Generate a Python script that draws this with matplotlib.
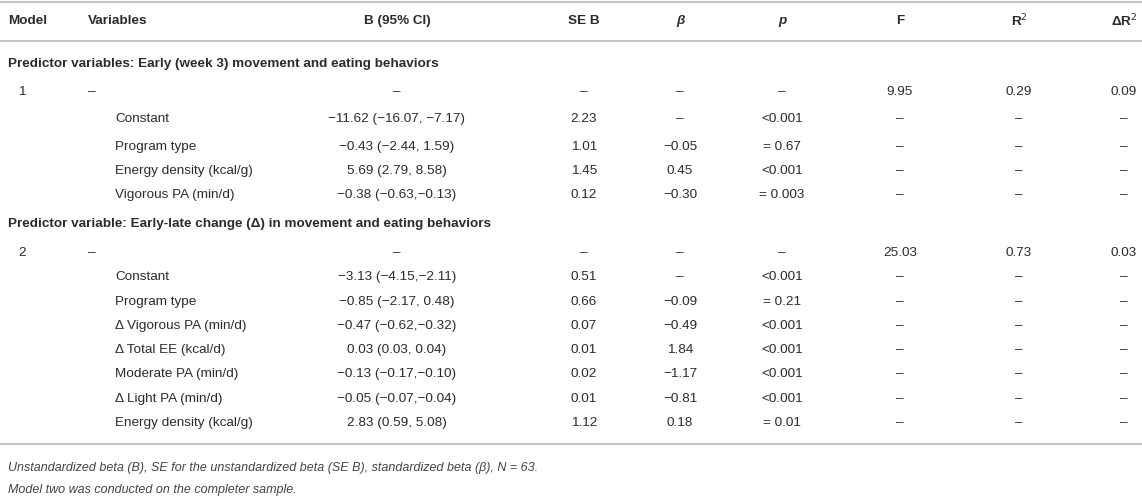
import matplotlib
matplotlib.use('Agg')
import matplotlib.pyplot as plt

plt.rcParams['font.family'] = ['Liberation Sans', 'DejaVu Sans']

W, H = 1142, 504
ink = '#2b2b2b'
rule = '#c4c4c4'

headers = ['Model', 'Variables', 'B (95% CI)', 'SE B', '\u03b2', 'p', 'F', 'R$^2$', '\u0394R$^2$']

section_titles = [
    'Predictor variables: Early (week 3) movement and eating behaviors',
    'Predictor variable: Early-late change (\u0394) in movement and eating behaviors',
]

D = '\u2013'
M = '\u2212'

models = ['1', '2']
variables = [
    [D, 'Constant', 'Program type', 'Energy density (kcal/g)', 'Vigorous PA (min/d)'],
    [D, 'Constant', 'Program type', '\u0394 Vigorous PA (min/d)', '\u0394 Total EE (kcal/d)',
     'Moderate PA (min/d)', '\u0394 Light PA (min/d)', 'Energy density (kcal/g)'],
]
b_ci = [
    [D, M + '11.62 (' + M + '16.07, ' + M + '7.17)', M + '0.43 (' + M + '2.44, 1.59)',
     '5.69 (2.79, 8.58)', M + '0.38 (' + M + '0.63,' + M + '0.13)'],
    [D, M + '3.13 (' + M + '4.15,' + M + '2.11)', M + '0.85 (' + M + '2.17, 0.48)',
     M + '0.47 (' + M + '0.62,' + M + '0.32)', '0.03 (0.03, 0.04)',
     M + '0.13 (' + M + '0.17,' + M + '0.10)', M + '0.05 (' + M + '0.07,' + M + '0.04)',
     '2.83 (0.59, 5.08)'],
]
se_b = [
    [D, '2.23', '1.01', '1.45', '0.12'],
    [D, '0.51', '0.66', '0.07', '0.01', '0.02', '0.01', '1.12'],
]
beta = [
    [D, D, M + '0.05', '0.45', M + '0.30'],
    [D, D, M + '0.09', M + '0.49', '1.84', M + '1.17', M + '0.81', '0.18'],
]
p_val = [
    [D, '<0.001', '= 0.67', '<0.001', '= 0.003'],
    [D, '<0.001', '= 0.21', '<0.001', '<0.001', '<0.001', '<0.001', '= 0.01'],
]
f_val = [['9.95'] + [D] * 4, ['25.03'] + [D] * 7]
r2 = [['0.29'] + [D] * 4, ['0.73'] + [D] * 7]
dr2 = [['0.09'] + [D] * 4, ['0.03'] + [D] * 7]

footnotes = [
    'Unstandardized beta (B), SE for the unstandardized beta (SE B), standardized beta (\u03b2), N = 63.',
    'Model two was conducted on the completer sample.',
]

fig = plt.figure(figsize=(W / 100, H / 100), dpi=100)
ax = fig.add_axes([0, 0, 1, 1])
ax.set_xlim(0, W)
ax.set_ylim(H, 0)
ax.axis('off')

fs = 9.7
col_x = [8, 88, 397, 584, 680, 782, 900, 1019, 1124]
col_ha = ['left', 'left', 'center', 'center', 'center', 'center', 'center', 'center', 'center']

# rules
for y in [2, 41, 444]:
    ax.plot([0, W], [y, y], color=rule, lw=1.5, solid_capstyle='butt')

# header row
for i, h in enumerate(headers):
    style = 'italic' if h in ('p', '\u03b2') else 'normal'
    ax.text(col_x[i], 21, h, ha=col_ha[i], va='center', fontsize=fs, fontweight='bold',
            fontstyle=style, color=ink)

section_y = [64, 224]
row_y = [[92, 119, 147, 171, 195], [253, 277, 302, 326, 350, 374, 399, 423]]

for s in range(2):
    ax.text(8, section_y[s], section_titles[s], ha='left', va='center', fontsize=fs,
            fontweight='bold', color=ink)
    ys = row_y[s]
    ax.text(22, ys[0], models[s], ha='center', va='center', fontsize=fs, color=ink)
    cols = [variables[s], b_ci[s], se_b[s], beta[s], p_val[s], f_val[s], r2[s], dr2[s]]
    for r, y in enumerate(ys):
        for c, vals in enumerate(cols):
            ci = c + 1
            if ci == 1:
                x = 88 if r == 0 else 115
                ha = 'left'
            else:
                x = col_x[ci]
                ha = col_ha[ci]
            ax.text(x, y, vals[r], ha=ha, va='center', fontsize=fs, color=ink)

for i, t in enumerate(footnotes):
    ax.text(8, 468 + 22 * i, t, ha='left', va='center', fontsize=fs - 0.7,
            fontstyle='italic', color='#444444')

fig.savefig('out.png', dpi=100)
